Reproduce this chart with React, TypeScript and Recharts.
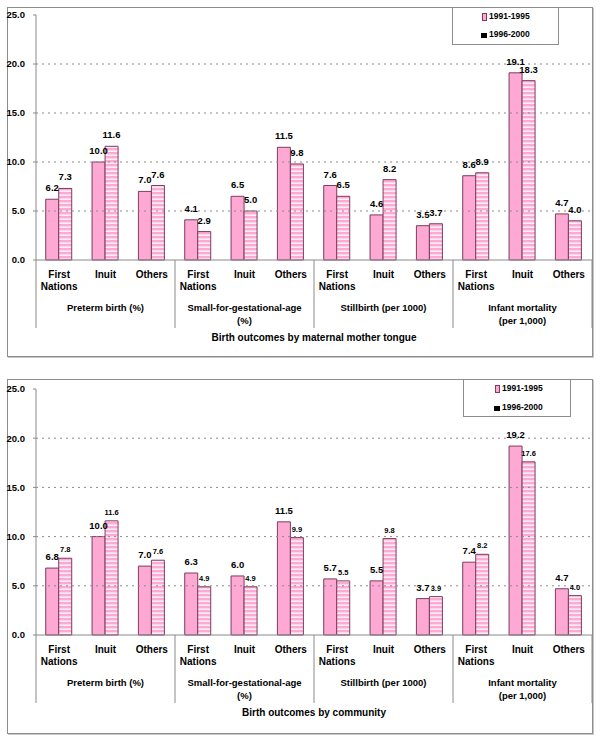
import { BarChart, Bar, XAxis, YAxis, ReferenceLine, LabelList } from 'recharts';

// Categories repeat for each outcome group
const categories = [
  'First Nations', 'Inuit', 'Others',
  'First Nations', 'Inuit', 'Others',
  'First Nations', 'Inuit', 'Others',
  'First Nations', 'Inuit', 'Others',
];
const groups = [
  'Preterm birth (%)',
  'Small-for-gestational-age\n(%)',
  'Stillbirth (per 1000)',
  'Infant mortality\n(per 1,000)',
];
const yTicks = [0, 5, 10, 15, 20, 25];
const gridValues = [5, 10, 15, 20];

// Maternal mother tongue
const tongue1991 = [6.2, 10.0, 7.0, 4.1, 6.5, 11.5, 7.6, 4.6, 3.5, 8.6, 19.1, 4.7];
const tongue1996 = [7.3, 11.6, 7.6, 2.9, 5.0, 9.8, 6.5, 8.2, 3.7, 8.9, 18.3, 4.0];

// Community
const community1991 = [6.8, 10.0, 7.0, 6.3, 6.0, 11.5, 5.7, 5.5, 3.7, 7.4, 19.2, 4.7];
const community1996 = [7.8, 11.6, 7.6, 4.9, 4.9, 9.9, 5.5, 9.8, 3.9, 8.2, 17.6, 4.0];

const FONT = '"Liberation Sans", Arial, sans-serif';
const PINK = '#FDA9D4';
const EDGE = '#7D3C5E';
const GREY = '#8a8a8a';
const WIDTH = 602;
const Y_AXIS_W = 36;
const RIGHT = 10;
const BAND = (WIDTH - Y_AXIS_W - RIGHT) / categories.length;

function CategoryTick(props: any) {
  const { x, y, payload, index } = props;
  const words = String(payload.value).split(' ');
  const groupIdx = Math.floor(index / 3);
  const pos = index % 3;
  const groupLines = groups[groupIdx].split('\n');
  return (
    <g fontFamily={FONT} fontWeight="bold" fill="#000">
      {words.map((w, i) => (
        <text key={i} x={x} y={y + 14 + i * 12} textAnchor="middle" dominantBaseline="central" fontSize={10}>
          {w}
        </text>
      ))}
      {pos === 0 && (
        <line x1={x - BAND / 2} x2={x - BAND / 2} y1={y} y2={y + 68} stroke={GREY} />
      )}
      {index === categories.length - 1 && (
        <line x1={x + BAND / 2} x2={x + BAND / 2} y1={y} y2={y + 68} stroke={GREY} />
      )}
      {pos === 1 &&
        groupLines.map((g, i) => (
          <text key={'g' + i} x={x} y={y + 47 + i * 13} textAnchor="middle" dominantBaseline="central" fontSize={9.5}>
            {g}
          </text>
        ))}
    </g>
  );
}

function makeLabel(size: number, off: number) {
  return (p: any) => (
    <text
      x={p.x + p.width / 2}
      y={p.y - off}
      textAnchor="middle"
      fontFamily={FONT}
      fontWeight="bold"
      fontSize={size}
      fill="#000"
    >
      {Number(p.value).toFixed(1)}
    </text>
  );
}

interface PanelProps {
  top: number;
  height: number;
  marginTop: number;
  axisHeight: number;
  first: number[];
  second: number[];
  smallSecond: boolean;
  title: string;
  box: { top: number; height: number };
  legend: { left: number; top: number; width: number; height: number; textLeft: number; rows: number[] };
}

function Panel({ top, height, marginTop, axisHeight, first, second, smallSecond, title, box, legend }: PanelProps) {
  const data = categories.map((c, i) => ({ cat: c, a: first[i], b: second[i] }));
  const axisY = top + height - axisHeight;
  return (
    <>
      <div
        style={{
          position: 'absolute',
          left: 7,
          top: box.top,
          width: 586,
          height: box.height,
          border: '1px solid #8c8c8c',
          boxShadow: '1px 1px 0 #c8c8c8',
          boxSizing: 'border-box',
        }}
      />
      <div style={{ position: 'absolute', left: 0, top }}>
        <BarChart
          width={WIDTH}
          height={height}
          data={data}
          margin={{ top: marginTop, right: RIGHT, bottom: 0, left: 0 }}
          barCategoryGap="21%"
          barGap={0}
        >
          <XAxis
            dataKey="cat"
            height={axisHeight}
            interval={0}
            tickLine={false}
            tickSize={0}
            tickMargin={0}
            stroke={GREY}
            tick={<CategoryTick />}
          />
          <YAxis
            width={Y_AXIS_W}
            domain={[0, 25]}
            ticks={yTicks}
            interval={0}
            stroke={GREY}
            tickSize={3}
            tickMargin={8}
            tickFormatter={(v: number) => v.toFixed(1)}
            tick={{ fontFamily: FONT, fontWeight: 'bold', fontSize: 9.5, fill: '#000' }}
          />
          {gridValues.map((v) => (
            <ReferenceLine key={v} y={v} stroke={GREY} strokeDasharray="2 4" />
          ))}
          <Bar dataKey="a" fill={PINK} stroke={EDGE} strokeWidth={1} isAnimationActive={false}>
            <LabelList dataKey="a" content={makeLabel(9.5, 8)} />
          </Bar>
          <Bar dataKey="b" fill="url(#hstripes)" stroke={EDGE} strokeWidth={1} isAnimationActive={false}>
            <LabelList dataKey="b" content={smallSecond ? makeLabel(7.5, 6) : makeLabel(9.5, 8)} />
          </Bar>
        </BarChart>
      </div>
      <div
        style={{
          position: 'absolute',
          left: Y_AXIS_W,
          width: WIDTH - Y_AXIS_W - RIGHT,
          top: axisY + 72,
          textAlign: 'center',
          fontFamily: FONT,
          fontWeight: 'bold',
          fontSize: 10,
          lineHeight: '12px',
        }}
      >
        {title}
      </div>
      <div
        style={{
          position: 'absolute',
          left: legend.left,
          top: legend.top,
          width: legend.width,
          height: legend.height,
          border: '1px solid #8c8c8c',
          boxSizing: 'border-box',
          background: '#fff',
          fontFamily: FONT,
          fontWeight: 'bold',
          fontSize: 8.5,
        }}
      >
        <div
          style={{
            position: 'absolute',
            left: legend.textLeft - 7,
            top: legend.rows[0] - 3,
            width: 3,
            height: 6,
            background: PINK,
            border: '1px solid ' + EDGE,
          }}
        />
        <div style={{ position: 'absolute', left: legend.textLeft, top: legend.rows[0] - 6, lineHeight: '12px' }}>
          1991-1995
        </div>
        <div
          style={{
            position: 'absolute',
            left: legend.textLeft - 8,
            top: legend.rows[1] - 1,
            width: 6,
            height: 5,
            background: '#000',
          }}
        />
        <div style={{ position: 'absolute', left: legend.textLeft, top: legend.rows[1] - 6, lineHeight: '12px' }}>
          1996-2000
        </div>
      </div>
    </>
  );
}

export default function App() {
  return (
    <div style={{ position: 'absolute', left: 0, top: 0, width: 602, height: 741, background: '#fff' }}>
      <svg width={0} height={0} style={{ position: 'absolute' }}>
        <defs>
          <pattern id="hstripes" patternUnits="userSpaceOnUse" width={4} height={4}>
            <rect x={0} y={0} width={4} height={4} fill={PINK} />
            <rect x={0} y={2.5} width={4} height={1.3} fill="#fff" />
          </pattern>
        </defs>
      </svg>
      <Panel
        top={0}
        height={370}
        marginTop={15}
        axisHeight={110}
        first={tongue1991}
        second={tongue1996}
        smallSecond={false}
        title="Birth outcomes by maternal mother tongue"
        box={{ top: 7, height: 350 }}
        legend={{ left: 452, top: 7, width: 107, height: 38, textLeft: 36, rows: [8, 26] }}
      />
      <Panel
        top={370}
        height={371}
        marginTop={19}
        axisHeight={106}
        first={community1991}
        second={community1996}
        smallSecond={true}
        title="Birth outcomes by community"
        box={{ top: 379, height: 355 }}
        legend={{ left: 463, top: 379, width: 108, height: 38, textLeft: 38, rows: [8, 27] }}
      />
    </div>
  );
}
